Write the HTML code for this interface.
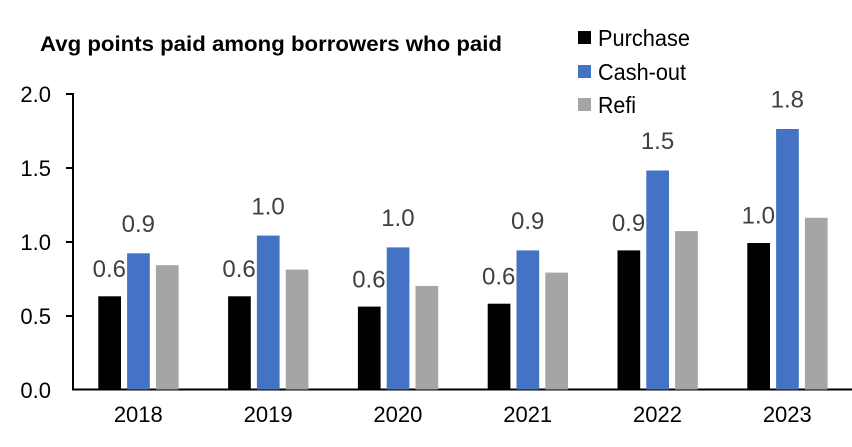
<!DOCTYPE html><html><head><style>body{margin:0;background:#fff}</style></head><body>
<svg width="852" height="442" xmlns="http://www.w3.org/2000/svg" font-family="Liberation Sans, Arial, sans-serif">
<text x="40" y="51" font-size="21" font-weight="bold" fill="#000" textLength="462" lengthAdjust="spacingAndGlyphs">Avg points paid among borrowers who paid</text>
<g font-size="23" lengthAdjust="spacingAndGlyphs">
<rect x="578" y="31" width="13" height="13" fill="#000"/><text x="598" y="46" textLength="92" lengthAdjust="spacingAndGlyphs">Purchase</text>
<rect x="578" y="65" width="13" height="13" fill="#4472C4"/><text x="598" y="80" textLength="88" lengthAdjust="spacingAndGlyphs">Cash-out</text>
<rect x="578" y="98" width="13" height="13" fill="#A5A5A5"/><text x="598" y="113" textLength="38" lengthAdjust="spacingAndGlyphs">Refi</text>
</g>
<g font-size="22" text-anchor="end" fill="#000">
<text x="51" y="102">2.0</text><text x="51" y="176">1.5</text><text x="51" y="250">1.0</text><text x="51" y="324">0.5</text><text x="51" y="398">0.0</text></g>
<g stroke="#000" stroke-width="2"><line x1="73" y1="93" x2="73" y2="390"/><line x1="72" y1="389.5" x2="852" y2="389.5"/>
<line x1="66" y1="94" x2="73" y2="94"/><line x1="66" y1="168" x2="73" y2="168"/><line x1="66" y1="242" x2="73" y2="242"/><line x1="66" y1="316" x2="73" y2="316"/></g>
<g>
<rect x="98.3" y="296.3" width="22.7" height="93.2" fill="#000"/><rect x="127.1" y="253.3" width="22.7" height="136.2" fill="#4472C4"/><rect x="155.9" y="265.2" width="22.7" height="124.3" fill="#A5A5A5"/>
<rect x="228.1" y="296.3" width="22.7" height="93.2" fill="#000"/><rect x="256.9" y="235.6" width="22.7" height="153.9" fill="#4472C4"/><rect x="285.7" y="269.6" width="22.7" height="119.9" fill="#A5A5A5"/>
<rect x="357.9" y="306.6" width="22.7" height="82.9" fill="#000"/><rect x="386.7" y="247.4" width="22.7" height="142.1" fill="#4472C4"/><rect x="415.5" y="285.9" width="22.7" height="103.6" fill="#A5A5A5"/>
<rect x="487.7" y="303.7" width="22.7" height="85.8" fill="#000"/><rect x="516.5" y="250.4" width="22.7" height="139.1" fill="#4472C4"/><rect x="545.3" y="272.6" width="22.7" height="116.9" fill="#A5A5A5"/>
<rect x="617.5" y="250.4" width="22.7" height="139.1" fill="#000"/><rect x="646.3" y="170.5" width="22.7" height="219" fill="#4472C4"/><rect x="675.1" y="231.1" width="22.7" height="158.4" fill="#A5A5A5"/>
<rect x="747.3" y="243" width="22.7" height="146.5" fill="#000"/><rect x="776.1" y="129" width="22.7" height="260.5" fill="#4472C4"/><rect x="804.9" y="217.8" width="22.7" height="171.7" fill="#A5A5A5"/>
</g>
<g font-size="24" fill="#404040" text-anchor="middle">
<text x="109.3" y="277">0.6</text><text x="138.3" y="232">0.9</text>
<text x="239.1" y="277">0.6</text><text x="268.1" y="214.3">1.0</text>
<text x="368.9" y="287.3">0.6</text><text x="397.9" y="226.1">1.0</text>
<text x="498.7" y="284.4">0.6</text><text x="527.7" y="229.1">0.9</text>
<text x="628.5" y="231.1">0.9</text><text x="657.5" y="149.2">1.5</text>
<text x="758.3" y="223.7">1.0</text><text x="787.3" y="107.7">1.8</text>
</g>
<g font-size="22" text-anchor="middle" fill="#000">
<text x="138.3" y="422">2018</text><text x="268.1" y="422">2019</text><text x="397.9" y="422">2020</text><text x="527.7" y="422">2021</text><text x="657.5" y="422">2022</text><text x="787.3" y="422">2023</text>
</g>
</svg></body></html>
